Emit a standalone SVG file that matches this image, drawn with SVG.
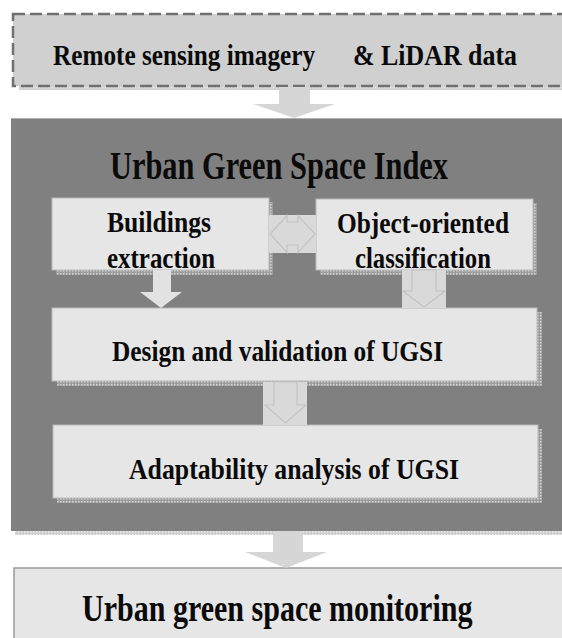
<svg xmlns="http://www.w3.org/2000/svg" width="562" height="638" viewBox="0 0 562 638">
<defs>
<style>
.t{font-family:"Liberation Serif","Times New Roman",serif;font-weight:bold;fill:#0a0a0a;}
.box{fill:#e6e6e6;stroke:#b8b8b8;stroke-width:1;}
.shadow{fill:url(#dots);}
.arr{fill:#d6d6d6;}
.abox{fill:#d9d9d9;}
.aout{fill:none;stroke:#c4c4c4;stroke-width:1.2;}
</style>
<pattern id="dots" width="3" height="3" patternUnits="userSpaceOnUse">
<rect width="3" height="3" fill="#9c9c9c"/>
<rect width="1.5" height="1.5" fill="#d4d4d4"/>
</pattern>
</defs>
<rect width="562" height="638" fill="#ffffff"/>

<g id="node-input">
<rect x="19" y="86" width="545" height="4" class="shadow" opacity="0.5"/>
<rect x="13" y="14" width="552" height="72" fill="#d0d0d0" stroke="#707070" stroke-width="2.5" stroke-dasharray="12 5"/>
<text class="t" y="65" font-size="29"><tspan x="53" textLength="262" lengthAdjust="spacingAndGlyphs">Remote sensing imagery</tspan><tspan x="353" textLength="164" lengthAdjust="spacingAndGlyphs">&amp; LiDAR data</tspan></text>
</g>

<g id="node-ugsi">
<rect x="15" y="531" width="547" height="4" class="shadow" opacity="0.5"/>
<rect x="11" y="118" width="553" height="413" fill="#808080"/>
<line x1="11" y1="118.5" x2="562" y2="118.5" stroke="#b0b0b0" stroke-width="1"/>
<text class="t" x="110" y="179" font-size="39" textLength="338" lengthAdjust="spacingAndGlyphs">Urban Green Space Index</text>
</g>

<g id="node-buildings">
<rect x="56" y="202" width="217" height="73" class="shadow"/>
<rect x="52" y="198" width="217" height="72" class="box"/>
<text class="t" x="107" y="232" font-size="30" textLength="104" lengthAdjust="spacingAndGlyphs">Buildings</text>
<text class="t" x="107" y="268" font-size="30" textLength="108" lengthAdjust="spacingAndGlyphs">extraction</text>
</g>

<g id="node-object">
<rect x="320" y="203" width="217" height="72" class="shadow"/>
<rect x="316" y="199" width="217" height="71" class="box"/>
<text class="t" x="337" y="233" font-size="30" textLength="172" lengthAdjust="spacingAndGlyphs">Object-oriented</text>
<text class="t" x="355" y="268" font-size="30" textLength="136" lengthAdjust="spacingAndGlyphs">classification</text>
</g>

<g id="node-design">
<rect x="57" y="312" width="485" height="74" class="shadow"/>
<rect x="52" y="308" width="485" height="73" class="box"/>
<text class="t" x="112" y="361" font-size="30" textLength="331" lengthAdjust="spacingAndGlyphs">Design and validation of UGSI</text>
</g>

<g id="node-adapt">
<rect x="57" y="429" width="485" height="74" class="shadow"/>
<rect x="53" y="425" width="485" height="73" class="box"/>
<text class="t" x="129" y="479" font-size="30" textLength="330" lengthAdjust="spacingAndGlyphs">Adaptability analysis of UGSI</text>
</g>

<g id="node-output">
<rect x="14" y="568" width="551" height="72" fill="#e6e6e6" stroke="#9a9a9a" stroke-width="1.5"/>
<text class="t" transform="translate(82,621) scale(0.79,1)" x="0" y="0" font-size="38">Urban green space monitoring</text>
</g>

<g id="connectors">
<polygon class="arr" points="279,87 310,87 310,104 335,104 294,118 253,104 279,104"/>
<rect class="abox" x="269" y="215" width="47" height="38"/>
<polygon class="aout" points="270,234 287,215.5 287,222 298,222 298,215.5 315,234 298,252.5 298,245 287,245 287,252.5"/>
<polygon points="153,270 171,270 171,292 182,292 161,308 140,292 153,292" fill="#e2e2e2"/>
<rect class="abox" x="402" y="270" width="44" height="38"/>
<polygon class="aout" points="412,270 436,270 436,291 445,291 424,307 403,291 412,291"/>
<rect class="abox" x="263" y="382" width="44" height="43"/>
<polygon class="aout" points="274,382 297,382 297,405 306,405 285.5,423 265,405 274,405"/>
<polygon class="arr" points="273,531 303,531 303,552 327,552 286,568 245,552 273,552"/>
</g>
</svg>
